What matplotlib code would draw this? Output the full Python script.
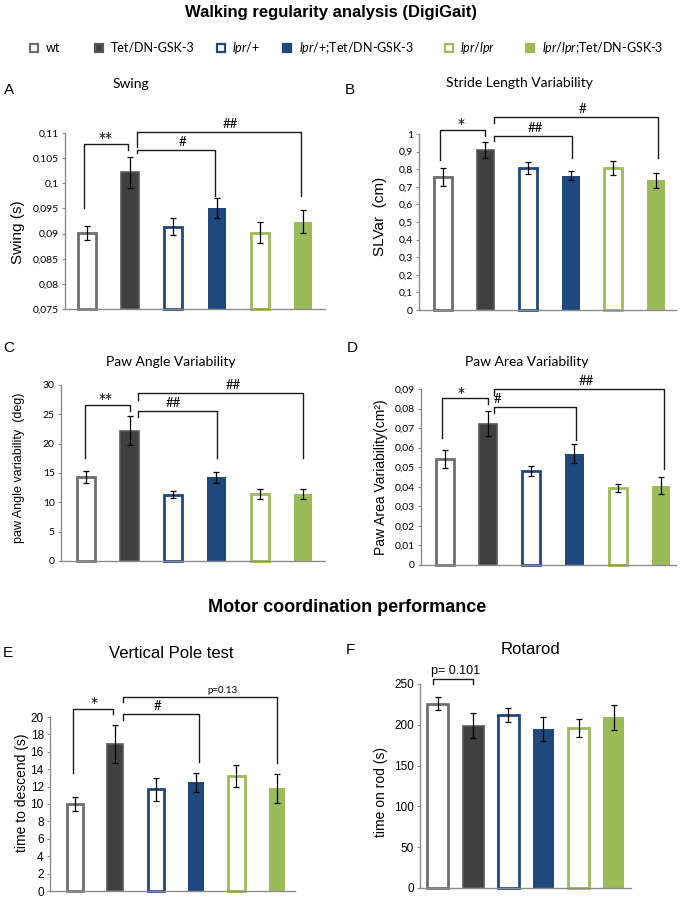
import matplotlib
matplotlib.use('Agg')
import matplotlib.pyplot as plt
from matplotlib.ticker import MultipleLocator, FuncFormatter

plt.rcParams['mathtext.fontset'] = 'custom'
plt.rcParams['mathtext.it'] = 'Lato:italic'
plt.rcParams['mathtext.rm'] = 'Lato'

W, H = 686, 898

# groups / colours
groups = ['wt', 'Tet/DN-GSK-3', r'$\mathit{lpr}$/+', r'$\mathit{lpr}$/+;Tet/DN-GSK-3',
          r'$\mathit{lpr/lpr}$', r'$\mathit{lpr/lpr}$;Tet/DN-GSK-3']
colors = ['#6e6e6e', '#404040', '#1f497d', '#1f497d', '#9bbb59', '#9bbb59']
filled = [False, True, False, True, False, True]

# values (mean, sem)
swing = [0.0902, 0.1022, 0.0914, 0.0950, 0.0902, 0.0924]
swing_err = [0.0014, 0.0031, 0.0016, 0.0020, 0.0021, 0.0022]
slvar = [0.755, 0.911, 0.806, 0.763, 0.806, 0.736]
slvar_err = [0.050, 0.045, 0.035, 0.025, 0.040, 0.043]
paw_angle = [14.3, 22.2, 11.3, 14.3, 11.5, 11.5]
paw_angle_err = [1.0, 2.5, 0.6, 0.95, 0.85, 0.85]
paw_area = [0.0543, 0.0723, 0.0480, 0.0570, 0.0394, 0.0405]
paw_area_err = [0.0047, 0.0064, 0.0024, 0.0047, 0.0021, 0.0044]
pole = [10.0, 16.9, 11.7, 12.5, 13.2, 11.8]
pole_err = [0.77, 2.2, 1.3, 1.1, 1.26, 1.63]
rotarod = [226, 199, 212, 195, 196, 209]
rotarod_err = [8, 15, 9, 14.5, 10.5, 15]

# significance brackets: x1, x2, y left leg, y top, y right leg, label, label x
swing_br = [(-0.08, 0.95, 0.0951, 0.1078, 0.1067, '**', 0.42),
            (1.15, 2.97, 0.1060, 0.1067, 0.0975, '#', 2.22),
            (1.15, 4.96, 0.1072, 0.1102, 0.0974, '##', 3.31)]
slvar_br = [(-0.07, 1.0, 0.85, 1.025, 0.99, '*', 0.42),
            (1.2, 3.03, 0.958, 0.99, 0.863, '##', 2.16),
            (1.2, 5.05, 1.063, 1.097, 0.863, '#', 3.27)]
angle_br = [(-0.02, 1.0, 17.5, 26.6, 25.6, '**', 0.44),
            (1.2, 3.02, 24.6, 25.6, 17.6, '##', 2.0),
            (1.2, 5.0, 27.4, 28.6, 17.6, '##', 3.38)]
area_br = [(-0.07, 1.0, 0.0651, 0.0852, 0.0822, '*', 0.37),
           (1.14, 3.03, 0.0779, 0.081, 0.0639, '#', 1.21),
           (1.14, 5.07, 0.0869, 0.09, 0.0489, '##', 3.28)]
pole_br = [(-0.05, 0.95, 13.6, 20.96, 20.3, '*', 0.47),
           (1.19, 3.07, 19.7, 20.3, 14.8, '#', 2.05),
           (1.19, 5.0, 21.7, 22.3, 14.7, 'p=0.13', 3.64)]
rota_br = [(-0.14, 1.0, 250, 255.7, 250, 'p= 0.101', 0.5)]

fig = plt.figure(figsize=(W / 100, H / 100), dpi=100)


def px_axes(l, t, r, b):
    return fig.add_axes([l / W, 1 - b / H, (r - l) / W, (b - t) / H])


def ftxt(x, y, s, **kw):
    kw.setdefault('ha', 'center')
    kw.setdefault('va', 'center')
    fig.text(x / W, 1 - y / H, s, **kw)


def comma(v, pos):
    return ('%g' % round(v, 4)).replace('.', ',')


def panel(rect, vals, errs, ylim, step, xlim, width, brackets, tickfont, ticksize,
          lw=2.0, use_comma=True):
    ax = px_axes(*rect)
    x = list(range(len(vals)))
    for i in x:
        if filled[i]:
            fc = colors[i]
            ec = '#5a5a5a' if i == 1 else colors[i]
            elw = 1.2 if i == 1 else 0
        else:
            fc = 'white'
            ec = colors[i]
            elw = lw
        ax.bar(i, vals[i] - ylim[0], bottom=ylim[0], width=width, color=fc,
               edgecolor=ec, linewidth=elw, clip_on=False, zorder=2)
    ax.errorbar(x, vals, yerr=errs, fmt='none', ecolor='black', elinewidth=0.9,
                capsize=2.5, capthick=0.9, zorder=3)
    for x1, x2, yl, yt, yr, lab, lx in brackets:
        ax.plot([x1, x1, x2, x2], [yl, yt, yt, yr], color='#1a1a1a', lw=1.0,
                clip_on=False, zorder=4)
        if lab == 'p=0.13':
            fs, fam, dy = 7, 'Lato', 1.5
        elif lab.startswith('p='):
            fs, fam, dy = 9, 'Liberation Sans', 1.5
        elif lab.startswith('*'):
            fs, fam, dy = 10, 'DejaVu Sans', -1
        else:
            fs, fam, dy = 9.5, 'Lato', 1.5
        ax.annotate(lab, xy=(lx, yt), xytext=(0, dy), textcoords='offset points',
                    ha='center', va='bottom', fontsize=fs, family=fam,
                    annotation_clip=False)
    ax.set_xlim(*xlim)
    ax.set_ylim(*ylim)
    ax.yaxis.set_major_locator(MultipleLocator(step))
    if use_comma:
        ax.yaxis.set_major_formatter(FuncFormatter(comma))
    ax.set_xticks([])
    for s in ['top', 'right']:
        ax.spines[s].set_visible(False)
    for s in ['left', 'bottom']:
        ax.spines[s].set_color('#8c8c8c')
        ax.spines[s].set_linewidth(1.0)
    ax.tick_params(axis='y', length=2.5, width=0.8, color='#8c8c8c', pad=2,
                   labelsize=ticksize)
    for t in ax.get_yticklabels():
        t.set_family(tickfont)
    return ax


# top title and legend
ftxt(331, 13, 'Walking regularity analysis (DigiGait)', fontsize=12,
     weight='bold', family='Liberation Sans')
leg = fig.add_axes([0, 0, 1, 1])
leg.set_xlim(0, W)
leg.set_ylim(H, 0)
leg.axis('off')
mk_x = [34, 99, 221, 287, 449, 530]
tx_x = [46, 111, 232, 299, 460, 542]
for i in range(6):
    leg.plot(mk_x[i], 48, marker='s', ms=6,
             mfc=colors[i] if filled[i] else 'white',
             mec=colors[i] if i != 1 else '#595959', mew=1.6)
    leg.text(tx_x[i], 48, groups[i], ha='left', va='center', fontsize=9,
             family='Lato')

# A
panel((65, 133, 325, 309), swing, swing_err, (0.075, 0.11), 0.005, (-0.51, 5.51),
      0.42, swing_br, 'Lato', 7.5)
# B
panel((419, 134, 676, 310), slvar, slvar_err, (0, 1), 0.1, (-0.56, 5.47),
      0.42, slvar_br, 'Lato', 7.5)
# C
panel((61, 385, 325, 561), paw_angle, paw_angle_err, (0, 30), 5, (-0.58, 5.5),
      0.42, angle_br, 'Lato', 7.5)
# D
panel((421, 389, 676, 565), paw_area, paw_area_err, (0, 0.09), 0.01, (-0.55, 5.35),
      0.42, area_br, 'Lato', 7.5)
# E
panel((50, 717, 295, 891), pole, pole_err, (0, 20), 2, (-0.62, 5.45),
      0.40, pole_br, 'Liberation Sans', 8.5, use_comma=False)
# F
panel((420, 684, 631, 888), rotarod, rotarod_err, (0, 250), 50, (-0.51, 5.49),
      0.60, rota_br, 'Liberation Sans', 8.5, use_comma=False)

# panel titles and letters
ftxt(131, 84, 'Swing', fontsize=10, family='Lato')
ftxt(519, 83, 'Stride Length Variability', fontsize=10, family='Lato')
ftxt(171, 362, 'Paw Angle Variability', fontsize=10, family='Lato')
ftxt(527, 362, 'Paw Area Variability', fontsize=10, family='Lato')
ftxt(347, 607, 'Motor coordination performance', fontsize=13, weight='bold',
     family='Liberation Sans')
ftxt(171, 654, 'Vertical Pole test', fontsize=12, family='Liberation Sans')
ftxt(530, 650, 'Rotarod', fontsize=12, family='Liberation Sans')

for lab, (x, y) in zip('ABCDEF', [(9, 90), (350, 90), (9, 348), (352, 348),
                                   (8, 653), (350, 650)]):
    ftxt(x, y, lab, fontsize=11, family='Liberation Sans')

# y labels
ftxt(18, 232, 'Swing (s)', fontsize=11, rotation=90, family='Liberation Sans')
ftxt(380, 216, 'SLVar  (cm)', fontsize=11, rotation=90, family='Liberation Sans')
ftxt(19, 468, 'paw Angle variability  (deg)', fontsize=9, rotation=90,
     family='Liberation Sans')
ftxt(381, 477, 'Paw Area Variability(cm²)', fontsize=10, rotation=90,
     family='Liberation Sans')
ftxt(22, 793, 'time to descend (s)', fontsize=10, rotation=90,
     family='Liberation Sans')
ftxt(381, 792, 'time on rod (s)', fontsize=10, rotation=90, family='Liberation Sans')

fig.savefig('out.png', dpi=100)
